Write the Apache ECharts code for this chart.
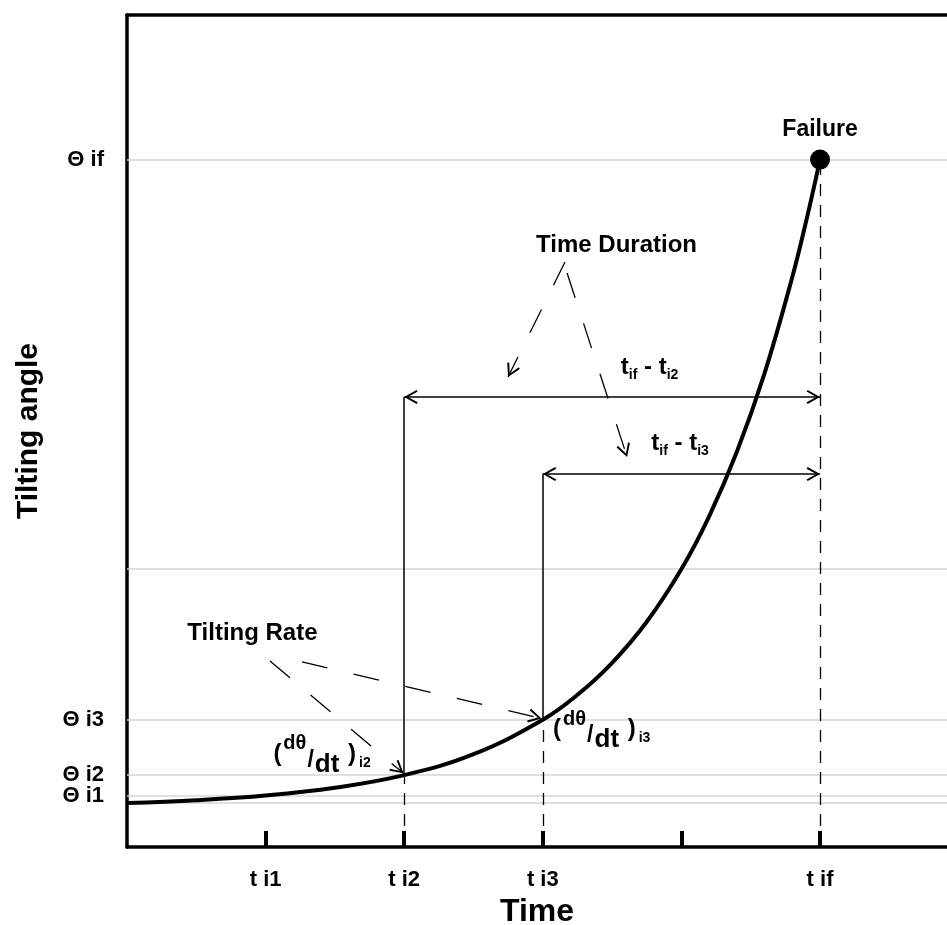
<!DOCTYPE html>
<html>
<head>
<meta charset="utf-8">
<script src="https://cdn.jsdelivr.net/npm/echarts@6/dist/echarts.min.js"></script>
<style>html,body{margin:0;padding:0;background:#fff;}#chart{width:947px;height:925px;}</style>
</head>
<body>
<div id="chart"></div>
<script>
// ---- data ----
const timeValues  = [0, 0.5, 1, 1.5, 2, 2.5, 3, 3.25, 3.5, 3.75, 4, 4.2, 4.4, 4.6, 4.8, 4.9, 5];
const angleValues = [5.29, 5.63, 6.19, 7.12, 8.64, 11.15, 15.30, 18.29, 22.14, 27.07, 33.41, 39.75, 47.50, 56.96, 68.51, 75.23, 82.62];
const xTickValues = [1, 2, 3, 4, 5];
const xTickLabels = ['t i1', 't i2', 't i3', '', 't if'];
const yTickValues = [6.19, 8.64, 15.30, 82.62];
const yTickLabels = ['Θ i1', 'Θ i2', 'Θ i3', 'Θ if'];
const gridLevels  = [5.29, 6.19, 8.64, 15.30, 33.41, 82.62];
const failurePoint = [5, 82.62];
// duration spans: start time, end time, level
const spanStart = [2, 3];
const spanEnd   = [5, 5];
const spanLevel = [54.09, 44.83];
const spanFloor = [8.64, 15.30];
// leader arrows (from -> to) in data units
const durationFrom = [[3.160, 70.31], [3.175, 68.99]];
const durationTo   = [[2.749, 56.49], [3.608, 46.88]];
const rateFrom     = [[1.032, 22.36], [1.263, 22.24]];
const rateTo       = [[1.995, 8.85], [2.99, 15.45]];
// text anchors
const textFailure   = 'Failure';
const textDuration  = 'Time Duration';
const textRate      = 'Tilting Rate';
const posDuration   = [3.532, 72.36];
const posRate       = [0.905, 25.72];
const posSpan       = [[3.77, 57.33], [3.99, 48.2]];
const posRateLabel  = [[1.407, 9.86], [3.425, 12.86]];

const FONT = "'Liberation Sans', Arial, sans-serif";
// open chevron, tip at the centre of its box
const arrowPath = 'path://M6,0L12,10.5L10.6,11.5L6,3.2L1.4,11.5L0,10.5Z M6,-11.5L6,-11.49';
const arrowSize = [14, 27];

const chart = echarts.init(document.getElementById('chart'), null, {renderer: 'canvas'});

const gridLines = gridLevels.map(v => ({yAxis: v}));

const structLines = [];
for (let i = 0; i < spanStart.length; i++) {
  structLines.push([
    {coord: [spanStart[i], spanLevel[i]], symbol: arrowPath, symbolSize: arrowSize,
     lineStyle: {color: '#000', width: 1.5, type: 'solid'}},
    {coord: [spanEnd[i], spanLevel[i]], symbol: arrowPath, symbolSize: arrowSize}
  ]);
  structLines.push([
    {coord: [spanStart[i], spanFloor[i]], symbol: 'none', lineStyle: {color: '#000', width: 1.5, type: 'solid'}},
    {coord: [spanStart[i], spanLevel[i]], symbol: 'none'}
  ]);
  structLines.push([
    {coord: [spanStart[i], 0], symbol: 'none', lineStyle: {color: '#000', width: 1.3, type: [12, 9]}},
    {coord: [spanStart[i], spanFloor[i]], symbol: 'none'}
  ]);
}
structLines.push([
  {coord: [failurePoint[0], 0], symbol: 'none', lineStyle: {color: '#000', width: 1.3, type: [12, 9]}},
  {coord: [failurePoint[0], failurePoint[1]], symbol: 'none'}
]);
for (let i = 0; i < durationFrom.length; i++) {
  structLines.push([
    {coord: durationFrom[i], symbol: 'none', lineStyle: {color: '#000', width: 1.3, type: [26, 27]}},
    {coord: durationTo[i], symbol: arrowPath, symbolSize: arrowSize}
  ]);
}
for (let i = 0; i < rateFrom.length; i++) {
  structLines.push([
    {coord: rateFrom[i], symbol: 'none', lineStyle: {color: '#000', width: 1.3, type: [26, 27]}},
    {coord: rateTo[i], symbol: arrowPath, symbolSize: arrowSize}
  ]);
}

const boldTxt = {fontFamily: FONT, fontWeight: 'bold', color: '#000'};
const spanRich = {
  b: Object.assign({fontSize: 24, lineHeight: 24, verticalAlign: 'bottom', padding: [0, 0, 3, 0]}, boldTxt),
  s: Object.assign({fontSize: 14, lineHeight: 14, verticalAlign: 'bottom', padding: [0, 0, 0, 0]}, boldTxt)
};
const rateRich = {
  p:  Object.assign({fontSize: 24, lineHeight: 24, verticalAlign: 'bottom', padding: [0, 1, 12, 0]}, boldTxt),
  up: Object.assign({fontSize: 20, lineHeight: 20, verticalAlign: 'bottom', padding: [0, 1, 24, 1]}, boldTxt),
  sl: Object.assign({fontSize: 23, lineHeight: 23, verticalAlign: 'bottom', padding: [0, 1, 6, 0]}, boldTxt),
  dn: Object.assign({fontSize: 26, lineHeight: 26, verticalAlign: 'bottom', padding: [0, 2, 0, 0]}, boldTxt),
  sb: Object.assign({fontSize: 14, lineHeight: 14, verticalAlign: 'bottom', padding: [0, 0, 8, 2]}, boldTxt)
};

const textPoints = [
  {coord: posDuration, symbolSize: 0, label: Object.assign({show: true, position: 'inside', fontSize: 24, formatter: textDuration}, boldTxt)},
  {coord: posRate, symbolSize: 0, label: Object.assign({show: true, position: 'inside', fontSize: 24, formatter: textRate}, boldTxt)},
  {coord: posSpan[0], symbolSize: 0, label: {show: true, position: 'inside', formatter: '{b|t}{s|if}{b| - t}{s|i2}', rich: spanRich}},
  {coord: posSpan[1], symbolSize: 0, label: {show: true, position: 'inside', formatter: '{b|t}{s|if}{b| - t}{s|i3}', rich: spanRich}},
  {coord: posRateLabel[0], symbolSize: 0, label: {show: true, position: 'inside', formatter: '{p|(}{up|dθ}{sl|/}{dn|dt}{p| )}{sb|i2}', rich: rateRich}},
  {coord: posRateLabel[1], symbolSize: 0, label: {show: true, position: 'inside', formatter: '{p|(}{up|dθ}{sl|/}{dn|dt}{p| )}{sb|i3}', rich: rateRich}}
];

// y-axis level labels drawn as marker labels at the left end of their grid lines
const yLabelLines = yTickValues.map((v, i) => ({
  yAxis: v,
  lineStyle: {color: 'rgba(0,0,0,0)', width: 0},
  label: Object.assign({show: true, position: 'start', distance: 23, fontSize: 22, formatter: yTickLabels[i]}, boldTxt)
}));

function lookup(vals, labels, v) {
  for (let i = 0; i < vals.length; i++) if (Math.abs(vals[i] - v) < 1e-6) return labels[i];
  return '';
}

chart.setOption({
  animation: false,
  backgroundColor: '#fff',
  grid: {left: 127, right: 0, top: 15, bottom: 78, containLabel: false, outerBoundsMode: 'none'},
  xAxis: [{
    type: 'value', min: 0, max: 5.916, interval: 1,
    name: 'Time', nameLocation: 'middle', nameGap: 49,
    nameTextStyle: {fontFamily: FONT, fontWeight: 'bold', fontSize: 32, color: '#000'},
    axisLine: {show: true, onZero: false, lineStyle: {color: '#000', width: 3.5}},
    axisTick: {show: true, inside: true, length: 16, customValues: xTickValues, lineStyle: {color: '#000', width: 4}},
    axisLabel: {show: true, customValues: xTickValues, margin: 22, fontFamily: FONT, fontWeight: 'bold', fontSize: 22, color: '#000',
      hideOverlap: false, formatter: v => lookup(xTickValues, xTickLabels, v)},
    splitLine: {show: false}
  }, {
    type: 'value', position: 'top', min: 0, max: 5.916,
    axisLine: {show: true, onZero: false, lineStyle: {color: '#000', width: 3.5}},
    axisTick: {show: false}, axisLabel: {show: false}, splitLine: {show: false}
  }],
  yAxis: {
    type: 'value', min: 0, max: 100,
    name: 'Tilting angle', nameLocation: 'middle', nameGap: 83, nameRotate: 90,
    nameTextStyle: {fontFamily: FONT, fontWeight: 'bold', fontSize: 30, color: '#000'},
    axisLine: {show: true, onZero: false, lineStyle: {color: '#000', width: 3.5}},
    axisTick: {show: false},
    axisLabel: {show: false},
    splitLine: {show: false}
  },
  series: [
    {
      type: 'line', data: [], z: 1, silent: true,
      markLine: {silent: true, symbol: 'none', label: {show: false},
        lineStyle: {color: '#d4d4d4', width: 1.5, type: 'solid'}, data: gridLines}
    },
    {
      type: 'line', data: [], z: 2, silent: true,
      markLine: {silent: true, symbol: 'none', data: yLabelLines}
    },
    {
      type: 'line', data: [], z: 3, silent: true,
      markLine: {silent: true, label: {show: false}, data: structLines}
    },
    {
      type: 'line', z: 5, silent: true,
      data: timeValues.map((t, i) => [t, angleValues[i]]),
      symbol: 'none', smooth: 0.4,
      lineStyle: {color: '#000', width: 4}
    },
    {
      type: 'scatter', z: 6, silent: true,
      data: [failurePoint], symbol: 'circle', symbolSize: 20,
      itemStyle: {color: '#000', opacity: 1},
      label: {show: true, position: 'top', distance: 8, formatter: textFailure,
        fontFamily: FONT, fontWeight: 'bold', fontSize: 23, color: '#000', opacity: 1}
    },
    {
      type: 'line', data: [], z: 7, silent: true,
      markPoint: {silent: true, symbol: 'circle', symbolSize: 0, itemStyle: {color: 'rgba(0,0,0,0)'}, data: textPoints}
    }
  ]
});
</script>
</body>
</html>
